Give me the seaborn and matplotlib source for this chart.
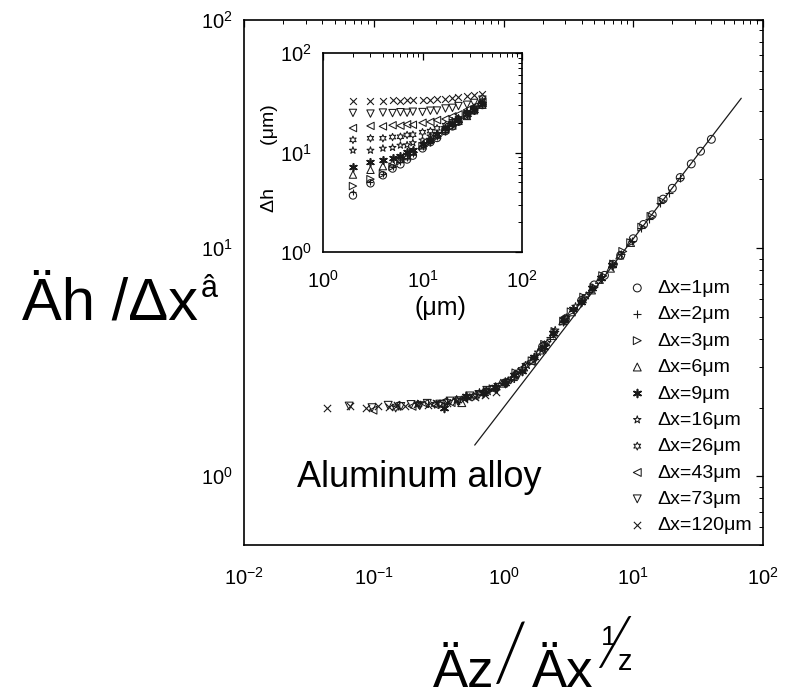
import matplotlib
matplotlib.use("Agg")
import matplotlib.pyplot as plt
import seaborn as sns
import pandas as pd

sns.set_theme(style="white")
plt.rcParams["font.family"] = ["Liberation Sans", "DejaVu Sans"]
plt.rcParams["mathtext.fontset"] = "custom"
plt.rcParams["mathtext.rm"] = "Liberation Sans"
plt.rcParams["mathtext.it"] = "Liberation Sans:italic"
plt.rcParams["mathtext.default"] = "regular"
for key in ("text.color", "axes.labelcolor", "xtick.color", "ytick.color"):
    plt.rcParams[key] = "black"

# separation along the profile (µm)
dz = [2, 3, 4, 5, 6, 7, 8, 10, 12, 14, 17, 20, 23, 28, 33, 40]

# window sizes (µm) and the measured height differences for each one (µm)
dx_sizes = [1, 2, 3, 6, 9, 16, 26, 43, 73, 120]
dh_1 = [3.7, 4.9, 5.9, 6.9, 7.6, 8.5, 9.3, 11.0, 12.7, 14.0, 16.4, 18.3, 20.4, 23.4, 26.6, 30.0]
dh_2 = [4.0, 5.0, 6.1, 7.1, 8.1, 8.9, 9.6, 11.3, 12.5, 14.2, 16.1, 18.4, 20.2, 23.6, 26.3, 30.3]
dh_3 = [4.6, 5.4, 6.1, 7.2, 8.2, 9.1, 10.0, 11.6, 12.8, 14.4, 16.2, 18.4, 20.1, 23.5, 26.2, 30.6]
dh_6 = [6.0, 6.7, 7.3, 7.8, 8.6, 9.2, 10.2, 11.8, 13.7, 15.0, 17.1, 18.7, 20.8, 23.3, 26.6, 30.2]
dh_9 = [7.2, 8.1, 8.4, 8.9, 9.3, 10.1, 10.5, 12.1, 13.4, 15.3, 17.5, 19.6, 21.1, 24.2, 26.7, 30.6]
dh_16 = [10.5, 10.5, 11.0, 11.2, 11.8, 11.9, 12.5, 13.3, 14.6, 15.5, 17.7, 19.5, 22.1, 25.1, 28.1, 31.3]
dh_26 = [13.4, 13.9, 13.9, 14.3, 14.4, 15.0, 15.1, 16.0, 16.4, 17.5, 18.8, 20.6, 22.0, 25.4, 28.3, 33.0]
dh_43 = [17.6, 18.5, 18.3, 18.8, 18.6, 19.2, 19.0, 19.9, 20.3, 21.2, 21.7, 23.1, 24.2, 26.8, 28.8, 32.5]
dh_73 = [25.0, 24.6, 25.2, 24.9, 25.4, 25.1, 25.7, 25.5, 26.3, 26.4, 27.7, 28.1, 29.3, 30.2, 31.5, 34.0]
dh_120 = [32.9, 33.3, 32.9, 33.5, 33.2, 33.7, 33.4, 34.0, 33.8, 34.4, 34.6, 35.3, 35.8, 36.6, 37.4, 38.5]
dh_series = [dh_1, dh_2, dh_3, dh_6, dh_9, dh_16, dh_26, dh_43, dh_73, dh_120]

# scaling exponents used for the collapse
beta = 0.585
inv_z = 0.80

# power-law guide line: y = amp * x**slope
fit_amp = 2.0
fit_slope = 0.74
fit_x = [0.6, 68.0]

marker_styles = ["o", "+", ">", "^", (6, 2, 0), "*", (6, 1, 0), "<", "v", "x"]
line_art = {"+", "x"}

rows = []
for size, values in zip(dx_sizes, dh_series):
    for z, h in zip(dz, values):
        rows.append({"dx": size, "dz": z, "dh": h})
df = pd.DataFrame(rows)
df["u"] = df["dz"] / df["dx"] ** inv_z
df["v"] = df["dh"] / df["dx"] ** beta

fit = pd.DataFrame({"x": fit_x})
fit["y"] = fit_amp * fit["x"] ** fit_slope

W, H = 792, 697
fig = plt.figure(figsize=(W / 100, H / 100), dpi=100)
fig.patch.set_facecolor("white")


def px_box(x0, y0, x1, y1):
    return [x0 / W, 1 - y1 / H, (x1 - x0) / W, (y1 - y0) / H]


ax = fig.add_axes(px_box(244, 20, 763, 545))
ins = fig.add_axes(px_box(323, 53, 522, 252))


def marker_kws(m, size):
    if isinstance(m, str) and m in line_art:
        return dict(marker=m, color="k", s=size * 0.85, linewidth=0.8)
    if isinstance(m, tuple) and m[1] == 2:
        return dict(marker=m, color="k", s=size, linewidth=1.2)
    return dict(marker=m, color="k", facecolor="none", edgecolor="k",
                s=size, linewidth=0.75)


for size, m in zip(dx_sizes, marker_styles):
    sub = df[df["dx"] == size]
    sns.scatterplot(data=sub, x="u", y="v", ax=ax, label=f"\u0394x={size}\u03bcm",
                    zorder=3, **marker_kws(m, 32))
    sns.scatterplot(data=sub, x="dz", y="dh", ax=ins, legend=False,
                    zorder=3, **marker_kws(m, 28))

sns.lineplot(data=fit, x="x", y="y", ax=ax, color="k", linewidth=0.9, zorder=2)

for a, xpad in ((ax, 16), (ins, 13)):
    a.set_xscale("log")
    a.set_yscale("log")
    a.set_xlabel("")
    a.set_ylabel("")
    a.set_facecolor("white")
    for sp in a.spines.values():
        sp.set_color("black")
        sp.set_linewidth(1.2)
        sp.set_visible(True)
    a.tick_params(which="both", direction="in", top=True, right=True,
                  colors="black", labelsize=14.5)
    a.tick_params(which="major", length=5, width=0.9)
    a.tick_params(which="minor", length=3, width=0.7)
    a.tick_params(axis="x", which="major", pad=xpad)
    a.tick_params(axis="y", which="major", pad=8)

ax.set_xlim(0.01, 100)
ax.set_ylim(0.5, 100)
ins.set_xlim(1, 100)
ins.set_ylim(1, 100)

ins.set_ylabel("\u0394h        (\u03bcm)", fontsize=14, labelpad=0)
ins.yaxis.set_label_coords(-0.226, 0.47)
ins.set_xlabel("(\u03bcm)", fontsize=18)
ins.xaxis.set_label_coords((440 - 323) / 199, -0.22)

ax.legend(loc="lower right", frameon=False, fontsize=14, handlelength=1.2,
          handletextpad=0.45, labelspacing=0.45, borderaxespad=0.15,
          scatterpoints=1)

# axis titles
fig.text(22 / W, 1 - 320 / H, "Äh /\u0394x", fontsize=43, ha="left", va="baseline")
fig.text(201 / W, 1 - 297 / H, "â", fontsize=22, ha="left", va="baseline")

fig.text(433 / W, 1 - 687 / H, "Äz", fontsize=38, ha="left", va="baseline")
fig.text(510 / W, 1 - 681 / H, "/", fontsize=58, ha="center", va="baseline",
         family=["Lato", "Liberation Sans"], fontweight=300)
fig.text(532 / W, 1 - 687 / H, "Äx", fontsize=38, ha="left", va="baseline")
fig.text(601 / W, 1 - 645 / H, "1", fontsize=20, ha="left", va="baseline")
fig.text(614 / W, 1 - 668 / H, "\u2044", fontsize=52, ha="center", va="baseline",
         family=["Lato", "Liberation Sans", "DejaVu Sans"], fontweight=300)
fig.text(618 / W, 1 - 670 / H, "z", fontsize=21, ha="left", va="baseline")

fig.text(297 / W, 1 - 487 / H, "Aluminum alloy", fontsize=26, ha="left", va="baseline")

fig.savefig("out.png", dpi=100, facecolor="white")
